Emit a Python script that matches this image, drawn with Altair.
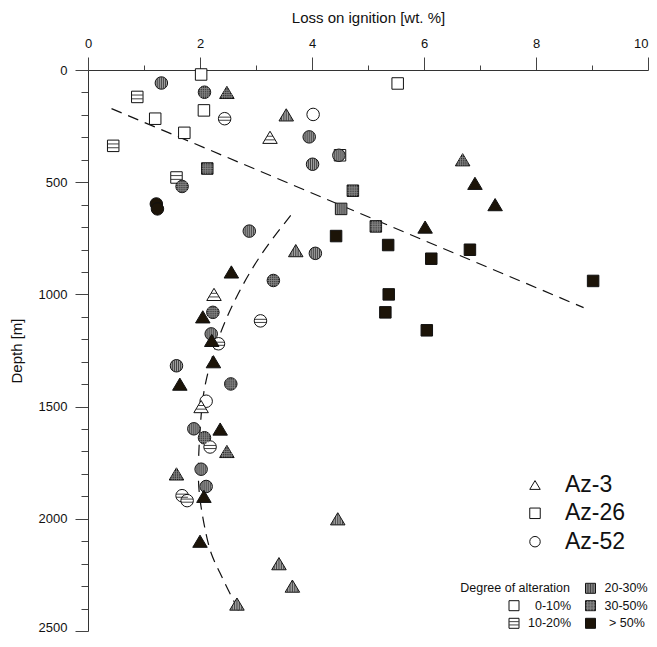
import math
import altair as alt
import pandas as pd

# ---------------- data ----------------
# Az-3 (triangles)
az3_loi = [2.48, 3.54, 3.25, 6.69, 6.91, 7.27, 6.02, 3.71, 2.56, 2.25, 2.05, 2.21,
           2.24, 1.64, 2.02, 2.36, 2.48, 1.58, 2.07, 4.46, 2.00, 3.41, 3.65, 2.66]
az3_depth = [100, 200, 300, 400, 505, 600, 700, 805, 900, 1000, 1100, 1205,
             1300, 1400, 1500, 1600, 1700, 1800, 1900, 2000, 2100, 2200, 2300, 2380]
az3_alt = ["30-50%", "20-30%", "10-20%", "30-50%", ">50%", ">50%", ">50%", "20-30%",
           ">50%", "10-20%", ">50%", ">50%", ">50%", ">50%", "10-20%", ">50%",
           "30-50%", "30-50%", ">50%", "20-30%", ">50%", "20-30%", "20-30%", "20-30%"]

# Az-26 (squares)
az26_loi = [2.02, 5.53, 0.88, 2.07, 1.20, 1.72, 0.45, 4.50, 2.13, 1.58, 4.73,
            4.52, 5.14, 4.43, 5.36, 6.82, 6.13, 9.02, 5.37, 5.31, 6.05]
az26_depth = [20, 60, 120, 180, 217, 280, 338, 380, 439, 479, 538,
              619, 697, 740, 780, 801, 841, 940, 1000, 1080, 1160]
az26_alt = ["0-10%", "0-10%", "10-20%", "0-10%", "0-10%", "0-10%", "10-20%", "0-10%",
            "30-50%", "10-20%", "30-50%", "20-30%", "30-50%", ">50%", ">50%", ">50%",
            ">50%", ">50%", ">50%", ">50%", ">50%"]

# Az-52 (circles)
az52_loi = [1.31, 2.08, 2.44, 4.02, 3.95, 4.48, 4.01, 1.68, 1.22, 1.24, 2.88, 4.06,
            3.31, 2.23, 3.08, 2.20, 2.33, 1.58, 2.55, 2.11, 1.89, 2.08, 2.18, 2.02,
            2.11, 1.68, 1.77]
az52_depth = [58, 99, 217, 198, 298, 380, 420, 519, 597, 619, 718, 817,
              938, 1080, 1118, 1176, 1220, 1318, 1399, 1476, 1599, 1639, 1680, 1779,
              1856, 1897, 1919]
az52_alt = ["20-30%", "30-50%", "10-20%", "0-10%", "20-30%", "20-30%", "20-30%", "30-50%",
            ">50%", ">50%", "20-30%", "20-30%", "30-50%", "30-50%", "10-20%", "20-30%",
            "10-20%", "20-30%", "30-50%", "0-10%", "20-30%", "30-50%", "10-20%", "20-30%",
            "20-30%", "10-20%", "10-20%"]

# dashed trend lines
trend_loi = [0.42, 8.85]
trend_depth = [172, 1059]
curve_loi = [3.62, 3.08, 2.67, 2.32, 2.08, 2.02, 1.98, 1.96, 2.02, 2.11, 2.20, 2.35, 2.49, 2.73]
curve_depth = [648, 819, 996, 1188, 1395, 1528, 1680, 1838, 1956, 2074, 2163, 2237, 2311, 2429]

# axes
x_ticks = list(range(0, 11))
y_ticks = list(range(0, 2501, 100))

# legends
series_names = ["Az-3", "Az-26", "Az-52"]
alt_cats = ["0-10%", "10-20%", "20-30%", "30-50%", ">50%"]
alt_labels = ["0-10%", "10-20%", "20-30%", "30-50%", "> 50%"]
legend_title = "Degree of alteration"

# ---------------- styling ----------------
FONT = "Liberation Sans"
PW, PH = 560, 561
fill_range = ["#ffffff", "#ffffff", "#a3a3a3", "#2e2e2e", "#1c1408"]
hatch_color = {"10-20%": "#111111", "20-30%": "#2a2a2a", "30-50%": "#8c8c8c"}
TRI = "M0,-0.84L1,0.84L-1,0.84Z"
OUTLINE = {"tri": TRI, "square": "square", "circle": "circle"}


def f(v):
    return "{:.3f}".format(v)


def extent_v(shape, o):
    if shape == "circle":
        h = math.sqrt(max(0.0, 1 - o * o)) * 0.97
        return -h, h
    if shape == "square":
        return -0.95, 0.95
    return -0.84 + 1.68 * abs(o) + 0.04, 0.8


def extent_h(shape, y):
    if shape == "circle":
        w = math.sqrt(max(0.0, 1 - y * y)) * 0.97
        return -w, w
    if shape == "square":
        return -0.95, 0.95
    w = (y + 0.84) / 1.68 * 0.96
    return -w, w


def vlines(shape, offs):
    parts = []
    for o in offs:
        a, b = extent_v(shape, o)
        parts.append("M" + f(o) + "," + f(a) + "L" + f(o) + "," + f(b))
    return "".join(parts)


def hlines(shape, offs):
    parts = []
    for y in offs:
        a, b = extent_h(shape, y)
        parts.append("M" + f(a) + "," + f(y) + "L" + f(b) + "," + f(y))
    return "".join(parts)


V_OFF = [-0.66, -0.33, 0.0, 0.33, 0.66]
G_OFF = [-0.6, -0.3, 0.0, 0.3, 0.6]
H_OFF = {"circle": [-0.25, 0.25], "square": [-0.33, 0.33], "tri": [-0.15, 0.35]}
G_H = {"circle": G_OFF, "square": G_OFF, "tri": [-0.3, 0.0, 0.3, 0.6]}

HATCH = {}
for shp in ["tri", "square", "circle"]:
    HATCH[shp] = {
        "10-20%": hlines(shp, H_OFF[shp]),
        "20-30%": vlines(shp, V_OFF),
        "30-50%": vlines(shp, G_OFF) + hlines(shp, G_H[shp]),
    }

fill_scale = alt.Scale(domain=alt_cats, range=fill_range)

xaxis = alt.Axis(
    orient="top", values=x_ticks, title="Loss on ignition [wt. %]",
    labelExpr="datum.value % 2 === 0 ? datum.label : ''",
    tickSize={"condition": {"test": "datum.value % 2 === 0", "value": 13}, "value": 5},
    labelAlign={"condition": {"test": "datum.value === 10", "value": "right"}, "value": "center"},
    grid=False, labelFlush=False, labelOverlap=False,
    domainColor="#333333", tickColor="#444444", tickWidth=1, domainWidth=1,
    labelFont=FONT, labelFontSize=13, labelColor="#111111", labelPadding=7,
    titleFont=FONT, titleFontSize=15, titleFontWeight="normal", titleColor="#111111",
    titlePadding=12,
)
yaxis = alt.Axis(
    orient="left", values=y_ticks, title="Depth [m]", format="d",
    labelExpr="datum.value % 500 === 0 ? datum.label : ''",
    tickSize={"condition": {"test": "datum.value % 500 === 0", "value": 13}, "value": 7},
    labelBaseline={"condition": {"test": "datum.value === 2500", "value": "alphabetic"},
                   "value": "middle"},
    grid=False, labelFlush=False, labelOverlap=False,
    domainColor="#333333", tickColor="#444444", tickWidth=1, domainWidth=1,
    labelFont=FONT, labelFontSize=13, labelColor="#111111", labelPadding=8,
    titleFont=FONT, titleFontSize=15, titleFontWeight="normal", titleColor="#111111",
    titlePadding=14,
)
xenc = alt.X("loi:Q", scale=alt.Scale(domain=[0, 10], nice=False, zero=False), axis=xaxis)
yenc = alt.Y("depth:Q", scale=alt.Scale(domain=[0, 2500], reverse=True, nice=False), axis=yaxis)


def symbol_layers(df, xe, ye, shp, size, sw=1.0):
    layers = [
        alt.Chart(df).mark_point(
            shape=OUTLINE[shp], filled=True, size=size, stroke="#111111",
            strokeWidth=sw, opacity=1,
        ).encode(x=xe, y=ye, fill=alt.Fill("cat:N", scale=fill_scale, legend=None))
    ]
    for cat in ["10-20%", "20-30%", "30-50%"]:
        sub = df[df["cat"] == cat]
        if len(sub):
            layers.append(
                alt.Chart(sub).mark_point(
                    shape=HATCH[shp][cat], filled=False, size=size,
                    stroke=hatch_color[cat], strokeWidth=0.8, opacity=1,
                ).encode(x=xe, y=ye)
            )
    return layers


sq_df = pd.DataFrame({"loi": az26_loi, "depth": az26_depth, "cat": az26_alt})
ci_df = pd.DataFrame({"loi": az52_loi, "depth": az52_depth, "cat": az52_alt})
tr_df = pd.DataFrame({"loi": az3_loi, "depth": az3_depth, "cat": az3_alt})

trend_df = pd.DataFrame({"loi": trend_loi, "depth": trend_depth})
curve_df = pd.DataFrame({"loi": curve_loi, "depth": curve_depth})

line1 = alt.Chart(trend_df).mark_line(color="#111111", strokeWidth=1.2, strokeDash=[11, 7]).encode(
    x=xenc, y=yenc, order=alt.Order("depth:Q"))
line2 = alt.Chart(curve_df).mark_line(color="#111111", strokeWidth=1.2, strokeDash=[11, 7],
                                      interpolate="basis").encode(
    x=xenc, y=yenc, order=alt.Order("depth:Q"))

layers = [line1, line2]
layers += symbol_layers(sq_df, xenc, yenc, "square", 132)
layers += symbol_layers(ci_df, xenc, yenc, "circle", 156)
layers += symbol_layers(tr_df, xenc, yenc, "tri", 210)

# ---------------- legends (pixel layout, relative to plot area) ----------------
lx = alt.X("lx:Q", scale=None)
ly = alt.Y("ly:Q", scale=None)

ser_df = pd.DataFrame({"name": series_names, "lx": [447.0] * 3, "ly": [415.0, 443.3, 471.7],
                       "tx": [477.0] * 3})
ser_sym = alt.Chart(ser_df).mark_point(filled=True, fill="white", stroke="#111111",
                                       strokeWidth=1, opacity=1, size=110).encode(
    x=lx, y=ly,
    shape=alt.Shape("name:N", scale=alt.Scale(domain=series_names, range=[TRI, "square", "circle"]),
                    legend=None))
ser_txt = alt.Chart(ser_df).mark_text(align="left", baseline="middle", font=FONT, fontSize=23,
                                      color="#111111").encode(
    x=alt.X("tx:Q", scale=None), y=ly, text="name:N")

deg_df = pd.DataFrame({
    "cat": alt_cats, "label": alt_labels,
    "lx": [426.0, 426.0, 502.5, 502.5, 502.5],
    "ly": [535.7, 553.3, 518.3, 535.7, 553.3],
    "tx": [447.0, 440.0, 516.5, 516.5, 521.0],
})
deg_layers = symbol_layers(deg_df, lx, ly, "square", 100)
deg_txt = alt.Chart(deg_df).mark_text(align="left", baseline="middle", font=FONT, fontSize=12.5,
                                      color="#111111").encode(
    x=alt.X("tx:Q", scale=None), y=ly, text="label:N")
title_df = pd.DataFrame({"t": [legend_title], "tx": [482.0], "ly": [518.3]})
deg_title = alt.Chart(title_df).mark_text(align="right", baseline="middle", font=FONT,
                                          fontSize=12.5, color="#111111").encode(
    x=alt.X("tx:Q", scale=None), y=ly, text="t:N")

layers += [ser_sym, ser_txt] + deg_layers + [deg_txt, deg_title]

chart = alt.layer(*layers).properties(
    width=PW, height=PH,
    padding={"left": 80, "top": 62, "right": 1, "bottom": 2},
    autosize=alt.AutoSizeParams(type="none"),
    background="white",
).configure_view(stroke=None)

chart.save("out.html", embed_options={"renderer": "svg", "actions": False})
